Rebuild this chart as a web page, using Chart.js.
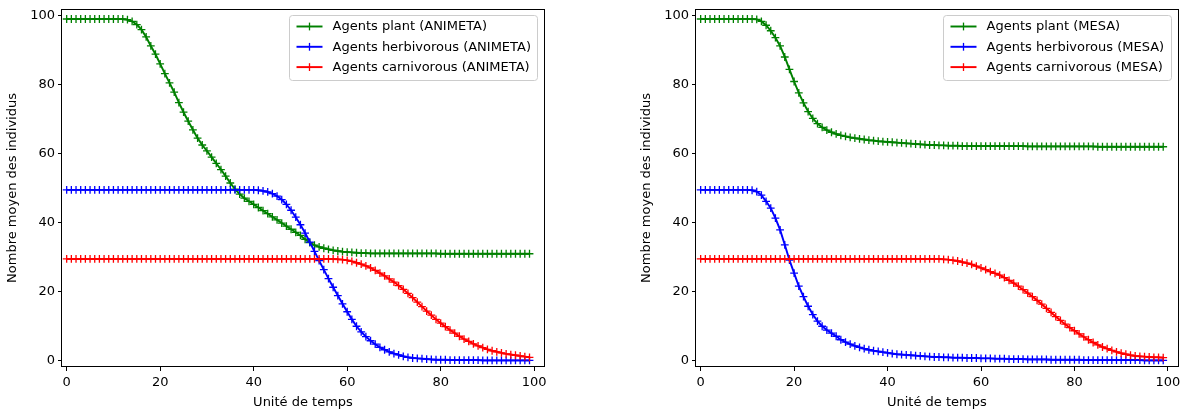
<!DOCTYPE html>
<html>
<head>
<meta charset="utf-8">
<title>Agents</title>
<script src="https://cdn.jsdelivr.net/npm/chart.js@4/dist/chart.umd.min.js"></script>
<style>
  html, body { margin: 0; padding: 0; background: #fff; overflow: hidden; }
  canvas { position: absolute; top: 0; }
  #animeta { left: 0; }
  #mesa { left: 634px; }
</style>
</head>
<body>
<canvas id="animeta" width="560" height="412"></canvas>
<canvas id="mesa" width="549" height="412"></canvas>
<script>
// mean number of agents per time step, averaged over runs
var steps = Array.from({ length: 100 }, function (_, i) { return i; });
var xTicks = [0, 20, 40, 60, 80, 100];
var yTicks = [0, 20, 40, 60, 80, 100];
var seriesNames = ['Agents plant', 'Agents herbivorous', 'Agents carnivorous'];
var seriesColors = ['#008000', '#0000ff', '#ff0000'];
var xTitle = 'Unité de temps';
var yTitle = 'Nombre moyen des individus';

var animetaPlant = [
  99.0, 99.0, 99.0, 99.0, 99.0, 99.0, 99.0, 99.0, 99.0, 99.0,
  99.0, 99.0, 99.0, 98.8, 98.3, 97.4, 95.9, 93.8, 91.2, 88.8,
  86.0, 83.2, 80.5, 77.8, 74.8, 72.0, 69.4, 66.9, 64.5, 62.5,
  60.8, 59.0, 57.2, 55.4, 53.5, 51.5, 49.7, 48.3, 47.1, 46.2,
  45.3, 44.4, 43.5, 42.6, 41.7, 40.8, 39.9, 39.0, 38.1, 37.2,
  36.3, 35.2, 34.2, 33.5, 33.0, 32.6, 32.3, 32.0, 31.8, 31.6,
  31.5, 31.4, 31.3, 31.2, 31.2, 31.1, 31.1, 31.1, 31.1, 31.1,
  31.1, 31.1, 31.1, 31.1, 31.1, 31.1, 31.1, 31.1, 31.1, 31.1,
  31.0, 31.0, 31.0, 31.0, 31.0, 31.0, 31.0, 31.0, 31.0, 31.0,
  31.0, 31.0, 31.0, 31.0, 31.0, 31.0, 31.0, 31.0, 31.0, 31.0
];
var animetaHerb = [
  49.5, 49.5, 49.5, 49.5, 49.5, 49.5, 49.5, 49.5, 49.5, 49.5,
  49.5, 49.5, 49.5, 49.5, 49.5, 49.5, 49.5, 49.5, 49.5, 49.5,
  49.5, 49.5, 49.5, 49.5, 49.5, 49.5, 49.5, 49.5, 49.5, 49.5,
  49.5, 49.5, 49.5, 49.5, 49.5, 49.5, 49.5, 49.5, 49.5, 49.5,
  49.5, 49.4, 49.2, 48.9, 48.4, 47.7, 46.7, 45.3, 43.6, 41.6,
  39.4, 37.0, 34.4, 31.7, 29.0, 26.4, 23.8, 21.3, 18.9, 16.5,
  14.2, 12.0, 10.0, 8.4, 7.0, 5.8, 4.8, 3.9, 3.2, 2.6,
  2.1, 1.7, 1.3, 1.0, 0.8, 0.7, 0.6, 0.5, 0.4, 0.3,
  0.3, 0.3, 0.2, 0.2, 0.2, 0.2, 0.2, 0.2, 0.2, 0.1,
  0.1, 0.1, 0.1, 0.1, 0.1, 0.1, 0.1, 0.1, 0.1, 0.1
];
var animetaCarn = [
  29.5, 29.5, 29.5, 29.5, 29.5, 29.5, 29.5, 29.5, 29.5, 29.5,
  29.5, 29.5, 29.5, 29.5, 29.5, 29.5, 29.5, 29.5, 29.5, 29.5,
  29.5, 29.5, 29.5, 29.5, 29.5, 29.5, 29.5, 29.5, 29.5, 29.5,
  29.5, 29.5, 29.5, 29.5, 29.5, 29.5, 29.5, 29.5, 29.5, 29.5,
  29.5, 29.5, 29.5, 29.5, 29.5, 29.5, 29.5, 29.5, 29.5, 29.5,
  29.5, 29.5, 29.5, 29.5, 29.5, 29.5, 29.5, 29.5, 29.4, 29.3,
  29.1, 28.8, 28.4, 28.0, 27.5, 26.9, 26.2, 25.4, 24.6, 23.7,
  22.8, 21.8, 20.7, 19.5, 18.3, 17.0, 15.7, 14.4, 13.2, 12.0,
  10.9, 9.9, 8.9, 8.0, 7.1, 6.3, 5.6, 4.9, 4.3, 3.8,
  3.3, 2.9, 2.6, 2.3, 2.0, 1.8, 1.6, 1.4, 1.2, 1.0
];

var mesaPlant = [
  99.0, 99.0, 99.0, 99.0, 99.0, 99.0, 99.0, 99.0, 99.0, 99.0,
  99.0, 99.0, 98.9, 98.3, 97.2, 95.6, 93.6, 91.2, 88.0, 84.4,
  80.9, 77.6, 74.7, 72.2, 70.2, 68.7, 67.6, 66.8, 66.2, 65.7,
  65.3, 65.0, 64.7, 64.5, 64.3, 64.1, 63.9, 63.8, 63.6, 63.5,
  63.4, 63.3, 63.2, 63.1, 63.0, 62.9, 62.8, 62.7, 62.6, 62.5,
  62.5, 62.4, 62.4, 62.3, 62.3, 62.3, 62.2, 62.2, 62.2, 62.2,
  62.2, 62.2, 62.2, 62.2, 62.2, 62.2, 62.2, 62.2, 62.2, 62.2,
  62.1, 62.1, 62.1, 62.1, 62.1, 62.1, 62.1, 62.1, 62.1, 62.1,
  62.1, 62.1, 62.1, 62.1, 62.1, 62.0, 62.0, 62.0, 62.0, 62.0,
  62.0, 62.0, 62.0, 62.0, 62.0, 62.0, 62.0, 62.0, 62.0, 62.0
];
var mesaHerb = [
  49.5, 49.5, 49.5, 49.5, 49.5, 49.5, 49.5, 49.5, 49.5, 49.5,
  49.5, 49.4, 49.0, 48.0, 46.2, 44.2, 41.3, 37.9, 33.6, 29.2,
  25.4, 21.6, 18.6, 15.8, 13.4, 11.5, 10.0, 8.9, 8.0, 7.1,
  6.1, 5.4, 4.8, 4.3, 3.9, 3.5, 3.2, 2.9, 2.7, 2.5,
  2.3, 2.1, 1.9, 1.8, 1.7, 1.6, 1.5, 1.4, 1.3, 1.2,
  1.1, 1.1, 1.0, 1.0, 0.9, 0.9, 0.9, 0.8, 0.8, 0.8,
  0.7, 0.7, 0.7, 0.6, 0.6, 0.6, 0.5, 0.5, 0.5, 0.5,
  0.4, 0.4, 0.4, 0.4, 0.4, 0.3, 0.3, 0.3, 0.3, 0.3,
  0.3, 0.3, 0.2, 0.2, 0.2, 0.2, 0.2, 0.2, 0.2, 0.2,
  0.2, 0.2, 0.2, 0.2, 0.2, 0.1, 0.1, 0.1, 0.1, 0.1
];
var mesaCarn = [
  29.5, 29.5, 29.5, 29.5, 29.5, 29.5, 29.5, 29.5, 29.5, 29.5,
  29.5, 29.5, 29.5, 29.5, 29.5, 29.5, 29.5, 29.5, 29.5, 29.5,
  29.5, 29.5, 29.5, 29.5, 29.5, 29.5, 29.5, 29.5, 29.5, 29.5,
  29.5, 29.5, 29.5, 29.5, 29.5, 29.5, 29.5, 29.5, 29.5, 29.5,
  29.5, 29.5, 29.5, 29.5, 29.5, 29.5, 29.5, 29.5, 29.5, 29.5,
  29.5, 29.5, 29.4, 29.3, 29.1, 28.9, 28.6, 28.3, 27.9, 27.4,
  26.9, 26.4, 25.8, 25.3, 24.8, 24.1, 23.3, 22.5, 21.6, 20.6,
  19.6, 18.6, 17.5, 16.4, 15.2, 14.0, 12.8, 11.7, 10.6, 9.6,
  8.7, 7.8, 6.9, 6.1, 5.3, 4.6, 4.0, 3.5, 3.0, 2.6,
  2.2, 1.9, 1.6, 1.4, 1.3, 1.2, 1.1, 1.0, 1.0, 0.9
];

var FONT = '"DejaVu Sans", sans-serif';
var LINE_W = 1.95;
var MARK_R = 3.9;

// axes frame on all four sides, like a classic plot box
var framePlugin = {
  id: 'frame',
  afterDatasetsDraw: function (chart) {
    var a = chart.chartArea;
    var ctx = chart.ctx;
    ctx.save();
    ctx.strokeStyle = '#000';
    ctx.lineWidth = 1;
    ctx.strokeRect(Math.round(a.left) - 0.5, Math.round(a.top) + 0.5,
      Math.round(a.right - a.left) + 1, Math.round(a.bottom - a.top) - 1);
    ctx.restore();
  }
};

// legend box in the upper right corner of the plot
var boxLegendPlugin = {
  id: 'boxLegend',
  afterDraw: function (chart) {
    var a = chart.chartArea;
    var ctx = chart.ctx;
    var sets = chart.data.datasets;
    ctx.save();
    ctx.font = '13px ' + FONT;
    var maxW = 0;
    sets.forEach(function (ds) { maxW = Math.max(maxW, ctx.measureText(ds.label).width); });
    var w = 7 + 36 + maxW + 7;
    var h = 65;
    var right = a.right - 7;
    var left = Math.round(right - w) + 0.5;
    var top = Math.round(a.top + 6) + 0.5;
    ctx.beginPath();
    ctx.roundRect(left, top, Math.round(w), h, 3);
    ctx.fillStyle = 'rgba(255,255,255,0.8)';
    ctx.fill();
    ctx.strokeStyle = '#cccccc';
    ctx.lineWidth = 1;
    ctx.stroke();
    sets.forEach(function (ds, i) {
      var y = top + 11 + i * 20.3;
      var x0 = left + 7;
      ctx.strokeStyle = ds.borderColor;
      ctx.lineWidth = LINE_W;
      ctx.beginPath();
      ctx.moveTo(x0, y);
      ctx.lineTo(x0 + 26, y);
      ctx.stroke();
      ctx.lineWidth = 1.3;
      ctx.beginPath();
      ctx.moveTo(x0 + 13, y - MARK_R);
      ctx.lineTo(x0 + 13, y + MARK_R);
      ctx.stroke();
      ctx.fillStyle = '#000';
      ctx.textBaseline = 'middle';
      ctx.textAlign = 'left';
      ctx.fillText(ds.label, x0 + 36, y + 0.5);
    });
    ctx.restore();
  }
};

function series(vals) {
  return steps.map(function (x, i) { return { x: x, y: vals[i] }; });
}

function buildChart(id, model, plant, herb, carn, padRight) {
  var values = [plant, herb, carn];
  var datasets = values.map(function (vals, i) {
    return {
      label: seriesNames[i] + ' (' + model + ')',
      data: series(vals),
      borderColor: seriesColors[i],
      backgroundColor: seriesColors[i],
      borderWidth: LINE_W,
      pointStyle: 'cross',
      pointRadius: MARK_R,
      pointBorderWidth: 1.3,
      pointBorderColor: seriesColors[i],
      fill: false,
      tension: 0,
      order: 2 - i
    };
  });
  var tickFont = { family: FONT, size: 13 };
  return new Chart(document.getElementById(id), {
    type: 'line',
    data: { datasets: datasets },
    options: {
      responsive: false,
      animation: false,
      devicePixelRatio: 1,
      layout: { padding: { top: 9, right: padRight, bottom: 0, left: 0 } },
      plugins: { legend: { display: false }, tooltip: { enabled: false } },
      scales: {
        x: {
          type: 'linear',
          min: -1,
          max: 102.1,
          afterBuildTicks: function (s) { s.ticks = xTicks.map(function (v) { return { value: v }; }); },
          afterFit: function (s) { s.height = 45; s.paddingLeft = 0; s.paddingRight = 0; },
          grid: { drawOnChartArea: false, drawTicks: true, tickLength: 4, color: '#000', lineWidth: 1 },
          border: { display: false },
          ticks: { color: '#000', font: tickFont, padding: 4, maxRotation: 0 },
          title: { display: true, text: xTitle, color: '#000', font: tickFont, padding: { top: 0, bottom: 2 } }
        },
        y: {
          type: 'linear',
          min: -1.8,
          max: 101.9,
          afterBuildTicks: function (s) { s.ticks = yTicks.map(function (v) { return { value: v }; }); },
          // keep the plot box where the layout padding puts it
          afterFit: function (s) { s.width = 62; s.paddingTop = 0; s.paddingBottom = 0; },
          grid: { drawOnChartArea: false, drawTicks: true, tickLength: 4, color: '#000', lineWidth: 1 },
          border: { display: false },
          ticks: { color: '#000', font: tickFont, padding: 3 },
          title: { display: true, text: yTitle, color: '#000', font: tickFont, padding: { top: 5, bottom: 0 } }
        }
      }
    },
    plugins: [framePlugin, boxLegendPlugin]
  });
}

buildChart('animeta', 'ANIMETA', animetaPlant, animetaHerb, animetaCarn, 16);
buildChart('mesa', 'MESA', mesaPlant, mesaHerb, mesaCarn, 5);
</script>
</body>
</html>
